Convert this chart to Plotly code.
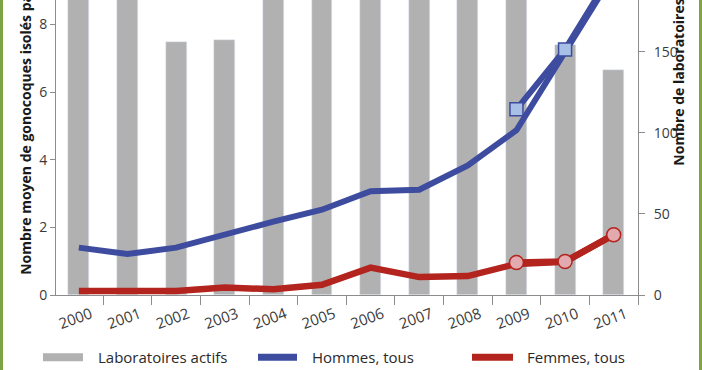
import plotly.graph_objects as go

years = ["2000", "2001", "2002", "2003", "2004", "2005", "2006", "2007", "2008", "2009", "2010", "2011"]
labs_actifs = [195, 192, 156, 157, 200, 205, 210, 212, 215, 214, 154, 139]
hommes_tous = [1.40, 1.21, 1.40, 1.80, 2.17, 2.52, 3.07, 3.11, 3.83, 4.87, 7.15, 9.5]
hommes_sub_years = ["2009", "2010", "2011"]
hommes_sub = [5.49, 7.26, 9.6]
femmes_tous = [0.12, 0.10, 0.12, 0.22, 0.17, 0.30, 0.81, 0.53, 0.56, 0.92, 0.98, 1.78]
femmes_sub_years = ["2009", "2010", "2011"]
femmes_sub = [0.96, 0.99, 1.78]

W, H = 702, 370
L, R, T, B = 56, 638, 0, 294.7
PW, PH = R - L, B - T

def px(x):
    return (x - L) / PW

def py(y):
    return (B - y) / PH

BLUE = "#3d4c9e"
RED = "#b3241e"
GRAY = "#b1b1b1"
FONT = "Open Sans"

fig = go.Figure()
fig.add_trace(go.Bar(x=years, y=labs_actifs, marker_color=GRAY, width=0.43,
                     yaxis="y", name="Laboratoires actifs"))
fig.add_trace(go.Scatter(x=years, y=hommes_tous, mode="lines", yaxis="y2",
                         line=dict(color=BLUE, width=6), name="Hommes, tous"))
fig.add_trace(go.Scatter(x=hommes_sub_years, y=hommes_sub, mode="lines+markers", yaxis="y2",
                         line=dict(color=BLUE, width=6),
                         marker=dict(symbol="square", size=13, color="#a8bfe6",
                                     line=dict(color=BLUE, width=1.5)), name="Hommes"))
fig.add_trace(go.Scatter(x=years, y=femmes_tous, mode="lines", yaxis="y2",
                         line=dict(color=RED, width=6.5), name="Femmes, tous"))
fig.add_trace(go.Scatter(x=femmes_sub_years, y=femmes_sub, mode="lines+markers", yaxis="y2",
                         line=dict(color=RED, width=6.5),
                         marker=dict(symbol="circle", size=14, color="#e2a9ae",
                                     line=dict(color=RED, width=1.5)), name="Femmes"))

axis_col = "#8c8c8c"
tick_font = dict(family=FONT, size=14, color="#3a3a3a")

fig.update_layout(
    width=W, height=H,
    margin=dict(l=L, r=W - R, t=T, b=H - B, autoexpand=False),
    paper_bgcolor="white", plot_bgcolor="white",
    showlegend=False,
    bargap=0,
    xaxis=dict(type="category", range=[-0.47, 11.5], showline=True, linecolor=axis_col,
               linewidth=1, ticks="outside", tickson="boundaries", ticklen=9,
               tickcolor=axis_col, tickangle=-20, showgrid=False, zeroline=False,
               automargin=False, ticklabelshift=12, ticklabelstandoff=4,
               tickfont=dict(family=FONT, size=15, color="#3a3a3a")),
    yaxis=dict(side="right", range=[0, 181.9], tickvals=[0, 50, 100, 150],
               showline=True, linecolor=axis_col, ticks="outside", ticklen=6,
               tickcolor=axis_col, showgrid=False, zeroline=False, tickfont=tick_font,
               ticklabelstandoff=6, automargin=False),
    yaxis2=dict(side="left", overlaying="y", anchor="x", range=[0, 8.72],
                tickvals=[0, 2, 4, 6, 8], showline=True, linecolor=axis_col,
                ticks="outside", ticklen=5, tickcolor=axis_col, showgrid=False,
                zeroline=False, tickfont=tick_font, automargin=False),
    font=dict(family=FONT),
)

annotations = [
    dict(text="<b>Nombre moyen de gonocoques isolés par laboratoire</b>", textangle=-90,
         x=px(26), y=py(277), xref="paper", yref="paper", xanchor="center", yanchor="bottom",
         showarrow=False, font=dict(family=FONT, size=14, color="#1a1a1a")),
    dict(text="<b>Nombre de laboratoires actifs</b>", textangle=-90,
         x=px(679), y=py(168), xref="paper", yref="paper", xanchor="center", yanchor="bottom",
         showarrow=False, font=dict(family=FONT, size=14, color="#1a1a1a")),
]
legend_items = [("Laboratoires actifs", 96), ("Hommes, tous", 310), ("Femmes, tous", 525)]
for txt, x0 in legend_items:
    annotations.append(dict(text=txt, x=px(x0), y=py(357), xref="paper", yref="paper",
                            xanchor="left", yanchor="middle", showarrow=False,
                            font=dict(family=FONT, size=15, color="#2a2a2a")))
fig.update_layout(annotations=annotations)

shapes = [
    dict(type="rect", xref="paper", yref="paper", x0=px(43), x1=px(83), y0=py(361), y1=py(353),
         fillcolor=GRAY, line=dict(width=0)),
    dict(type="line", xref="paper", yref="paper", x0=px(258), x1=px(297), y0=py(357), y1=py(357),
         line=dict(color=BLUE, width=7)),
    dict(type="line", xref="paper", yref="paper", x0=px(472), x1=px(513), y0=py(357), y1=py(357),
         line=dict(color=RED, width=7)),
    dict(type="line", xref="paper", yref="paper", x0=px(1.5), x1=px(1.5), y0=py(-5), y1=py(375),
         line=dict(color="#7ea545", width=3)),
    dict(type="line", xref="paper", yref="paper", x0=px(700.5), x1=px(700.5), y0=py(-5), y1=py(375),
         line=dict(color="#7ea545", width=3)),
]
fig.update_layout(shapes=shapes)

fig.write_html("out.html", config={"displayModeBar": False},
               post_script="document.body.style.margin='0';document.body.style.overflow='hidden';")
